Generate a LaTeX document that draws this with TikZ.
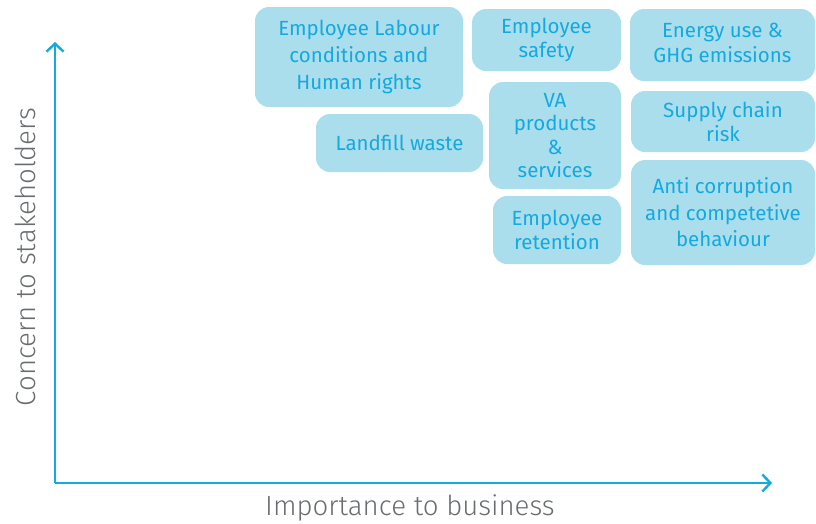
\documentclass[tikz,border=0pt]{standalone}
\usepackage{fontspec}
\setmainfont{Fira Sans}[UprightFont=* Light]
\newfontfamily\boxfont{Fira Sans}
\usetikzlibrary{arrows.meta}
\definecolor{boxfill}{HTML}{ABDEEC}
\definecolor{boxtext}{HTML}{14A9DF}
\definecolor{axiscol}{HTML}{12AAE0}
\definecolor{labelgray}{HTML}{6A6D70}
\begin{document}
\begin{tikzpicture}[x=1pt,y=-1pt,
  box/.style={fill=boxfill, rounded corners=14pt, align=center, text=boxtext,
    font=\boxfont\fontsize{20.5}{25}\selectfont, inner sep=0pt},
  axis/.style={draw=axiscol, line width=2.4pt, -{Straight Barb[length=8pt,width=17pt,line width=2.4pt]}},
  axlabel/.style={text=labelgray, font=\fontsize{27.6}{30}\selectfont, inner sep=0pt}]
\useasboundingbox (0,0) rectangle (816,523);
\node[box, minimum width=208pt, minimum height=100pt, font=\boxfont\fontsize{20.5}{27}\selectfont] (labour) at (359,57) {Employee Labour\\conditions and\\Human rights};
\node[box, minimum width=167pt, minimum height=58pt] (landfill) at (399.5,143) {Landfill waste};
\node[box, minimum width=149pt, minimum height=62pt, font=\boxfont\fontsize{20.5}{24}\selectfont] (safety) at (546.5,40) {Employee\\safety};
\node[box, minimum width=132pt, minimum height=107pt, font=\boxfont\fontsize{20.5}{23.5}\selectfont] (va) at (555,135.5) {VA\\products\\\&\\services};
\node[box, minimum width=128pt, minimum height=68pt, font=\boxfont\fontsize{20.5}{23.5}\selectfont] (retention) at (557,230) {Employee\\retention};
\node[box, minimum width=185pt, minimum height=72pt, font=\boxfont\fontsize{20.5}{26}\selectfont] (energy) at (722.5,45) {\raisebox{4pt}{\shortstack{Energy use \&\\[2pt]GHG emissions}}};
\node[box, minimum width=184pt, minimum height=61pt, font=\boxfont\fontsize{20.5}{24}\selectfont] (supply) at (723,121.5) {Supply chain\\risk};
\node[box, minimum width=184pt, minimum height=105pt, font=\boxfont\fontsize{20.5}{26.5}\selectfont] (anti) at (723,212.5) {Anti corruption\\and competetive\\behaviour};
\coordinate (origin) at (55,483);
\coordinate (ytip) at (55,42);
\coordinate (xtip) at (772,483);
\draw[axis] (origin) -- (ytip);
\draw[axis] (origin) -- (xtip);
\node[axlabel, rotate=90] (ylab) at (25,257) {Concern to stakeholders};
\node[axlabel] (xlab) at (410,508) {Importance to business};
\end{tikzpicture}
\end{document}
